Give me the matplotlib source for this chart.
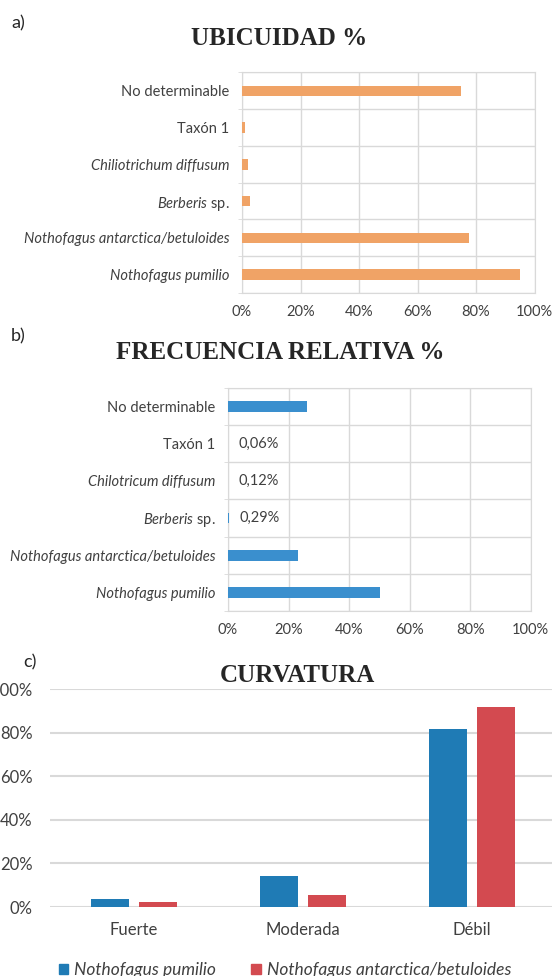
import numpy as np
import matplotlib
matplotlib.use("Agg")
import matplotlib.pyplot as plt
from matplotlib.patches import Patch

plt.rcParams['font.family'] = ['Lato', 'DejaVu Sans']
plt.rcParams['mathtext.fontset'] = 'custom'
plt.rcParams['mathtext.rm'] = 'Lato'
plt.rcParams['mathtext.it'] = 'Lato:italic'

# Datos (de abajo hacia arriba en los gráficos horizontales)
taxa_a = ['Nothofagus pumilio', 'Nothofagus antarctica/betuloides', '$\\mathit{Berberis}$ sp.',
          'Chiliotrichum diffusum', 'Taxón 1', 'No determinable']
taxa_b = ['Nothofagus pumilio', 'Nothofagus antarctica/betuloides', '$\\mathit{Berberis}$ sp.',
          'Chilotricum diffusum', 'Taxón 1', 'No determinable']
italica = [True, True, False, True, False, False]
ubicuidad = [95.0, 77.5, 2.7, 1.9, 0.9, 75.0]
frecuencia = [50.2, 23.0, 0.29, 0.12, 0.06, 26.2]
etiquetas_b = ['', '', '0,29%', '0,12%', '0,06%', '']

curv_cats = ['Fuerte', 'Moderada', 'Débil']
curv_pumilio = [3.5, 14.4, 81.6]
curv_antarctica = [2.2, 5.5, 91.9]

W, H = 552, 976
GRIS = '#D9D9D9'
TEXTO = '#404040'


def caja(l, t, r, b):
    # convierte píxeles (izq, arriba, der, abajo) a coordenadas de figura
    return [l / W, 1 - b / H, (r - l) / W, (b - t) / H]


def barras_horizontales(ax, taxa, valores, color):
    y = np.arange(len(taxa))
    ax.barh(y, valores, height=0.29, color=color, zorder=3)
    ax.set_xlim(0, 100)
    ax.set_ylim(-0.5, len(taxa) - 0.5)
    ax.set_xticks(np.arange(0, 101, 20))
    ax.set_xticklabels([f'{v}%' for v in range(0, 101, 20)])
    ax.set_yticks(y)
    ax.set_yticklabels(taxa)
    for lab, it in zip(ax.get_yticklabels(), italica):
        if it:
            lab.set_fontstyle('italic')
    ax.set_yticks(np.arange(-0.5, len(taxa)), minor=True)
    ax.grid(True, axis='x', color=GRIS, lw=1)
    ax.grid(True, axis='y', which='minor', color=GRIS, lw=1)
    ax.tick_params(axis='y', which='major', length=0, pad=9, labelsize=10.5, labelcolor=TEXTO)
    ax.tick_params(axis='y', which='minor', length=3, color=GRIS)
    ax.tick_params(axis='x', length=0, pad=9, labelsize=10.5, labelcolor=TEXTO)
    for s in ax.spines.values():
        s.set_color(GRIS)
    ax.set_axisbelow(True)


fig = plt.figure(figsize=(W / 100, H / 100), dpi=100)

# a) Ubicuidad
ax1 = fig.add_axes(caja(242, 72.5, 534.5, 293))
barras_horizontales(ax1, taxa_a, ubicuidad, '#F0A366')
fig.text(279 / W, 1 - 45 / H, 'UBICUIDAD %', family='Liberation Serif', weight='bold',
         size=18, color='#262626', ha='center', va='baseline')
fig.text(11 / W, 1 - 23 / H, 'a)', size=13, color='#262626', va='center')

# b) Frecuencia relativa
ax2 = fig.add_axes(caja(228, 387.7, 530.6, 611))
barras_horizontales(ax2, taxa_b, frecuencia, '#3A8FCE')
for i, (v, t) in enumerate(zip(frecuencia, etiquetas_b)):
    if t:
        ax2.annotate(t, xy=(v, i), xytext=(7.5, 0), textcoords='offset points',
                     ha='left', va='center', size=10.5, color=TEXTO)
fig.text(280 / W, 1 - 359.3 / H, 'FRECUENCIA RELATIVA %', family='Liberation Serif',
         weight='bold', size=18, color='#262626', ha='center', va='baseline')
fig.text(11 / W, 1 - 336 / H, 'b)', size=13, color='#262626', va='center')

# c) Curvatura
ax3 = fig.add_axes(caja(49.5, 689.3, 556.5, 907))
x = np.arange(len(curv_cats))
ancho = 0.222
ax3.bar(x - 0.142, curv_pumilio, width=ancho, color='#1F7BB5', zorder=3)
ax3.bar(x + 0.142, curv_antarctica, width=ancho, color='#D34A50', zorder=3)
ax3.set_xlim(-0.5, len(curv_cats) - 0.5)
ax3.set_ylim(0, 100)
ax3.set_yticks(np.arange(0, 101, 20))
ax3.set_yticklabels([f'{v}%' for v in range(0, 101, 20)])
ax3.set_xticks(x)
ax3.set_xticklabels(curv_cats)
ax3.grid(True, axis='y', color=GRIS, lw=1.5)
ax3.tick_params(axis='both', length=0, labelsize=12, labelcolor=TEXTO)
ax3.tick_params(axis='y', pad=12)
ax3.tick_params(axis='x', pad=11)
for s in ax3.spines.values():
    s.set_visible(False)
ax3.set_axisbelow(True)
fig.text(297.5 / W, 1 - 681.7 / H, 'CURVATURA', family='Liberation Serif', weight='bold',
         size=18, color='#262626', ha='center', va='baseline')
fig.text(23 / W, 1 - 662 / H, 'c)', size=13, color='#262626', va='center')

manejadores = [Patch(color='#1F7BB5', label='Nothofagus pumilio'),
               Patch(color='#D34A50', label='Nothofagus antarctica/betuloides')]
leg = fig.legend(handles=manejadores, loc='center', bbox_to_anchor=(285 / W, 1 - 970 / H),
                 ncol=2, frameon=False, handlelength=0.55, handleheight=0.55,
                 handletextpad=0.35, columnspacing=2.0, prop={'size': 12.5, 'style': 'italic'})
for t in leg.get_texts():
    t.set_color(TEXTO)

fig.savefig('out.png', dpi=100)
